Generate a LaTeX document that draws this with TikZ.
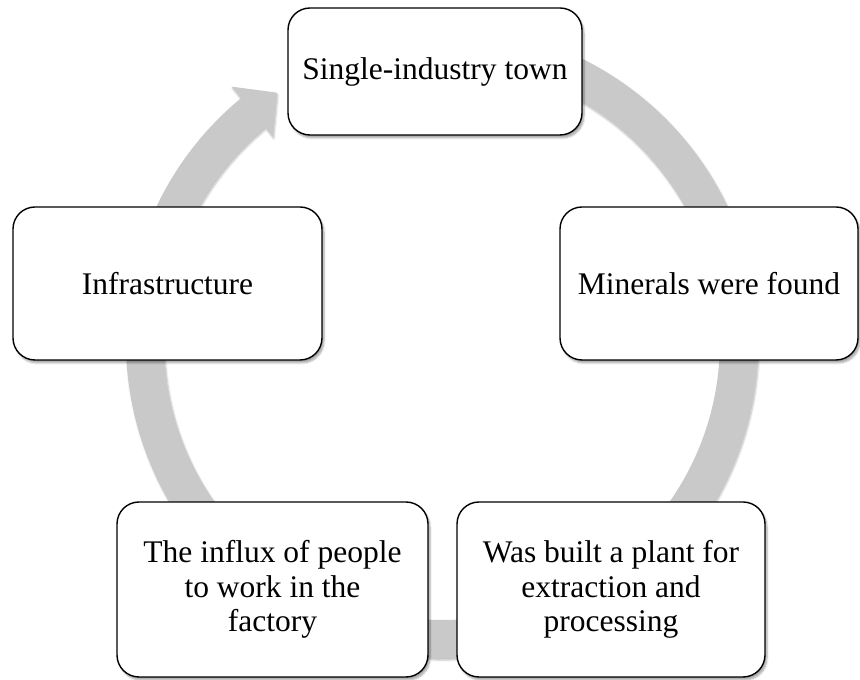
\documentclass[tikz,border=0pt]{standalone}
\usepackage{fontspec}
\setmainfont{Liberation Serif}
\usetikzlibrary{shadows.blur}
\definecolor{ringgray}{RGB}{201,201,201}
\tikzset{
  stepbox/.style={draw=black, line width=1.4pt, fill=white, rounded corners=22pt,
    align=center, inner sep=0pt,
    font=\fontsize{31.5}{34.5}\selectfont,
    blur shadow={shadow xshift=2pt, shadow yshift=-3pt, shadow blur steps=6, shadow opacity=35}},
}
\begin{document}
\begin{tikzpicture}[x=1pt,y=1pt]
\useasboundingbox (0,0) rectangle (860,680);
% ring with arrowhead
\begin{scope}[shift={(442,338)}]
\fill[ringgray, blur shadow={shadow xshift=1pt, shadow yshift=-2pt, shadow blur steps=5, shadow opacity=25}]
  (110:316) arc[start angle=110, end angle=-230.5, radius=316pt]
  -- (-230.5:331) -- (-236.5:299) -- (-230.5:266) -- (-230.5:278)
  arc[start angle=-230.5, end angle=110, radius=278pt] -- cycle;
\end{scope}
% boxes
\node (town) at (435,608.5) [stepbox, minimum width=294pt, minimum height=127pt]{Single-industry town};
\node (minerals) at (709,396.5) [stepbox, minimum width=298pt, minimum height=153pt]{Minerals were found};
\node (plant) at (611,90.5) [stepbox, minimum width=308pt, minimum height=175pt]{Was built a plant for\\extraction and\\processing};
\node (influx) at (272.5,90.5) [stepbox, minimum width=311pt, minimum height=175pt]{The influx of people\\to work in the\\factory};
\node (infra) at (167.5,396.5) [stepbox, minimum width=309pt, minimum height=153pt]{Infrastructure};
\end{tikzpicture}
\end{document}
